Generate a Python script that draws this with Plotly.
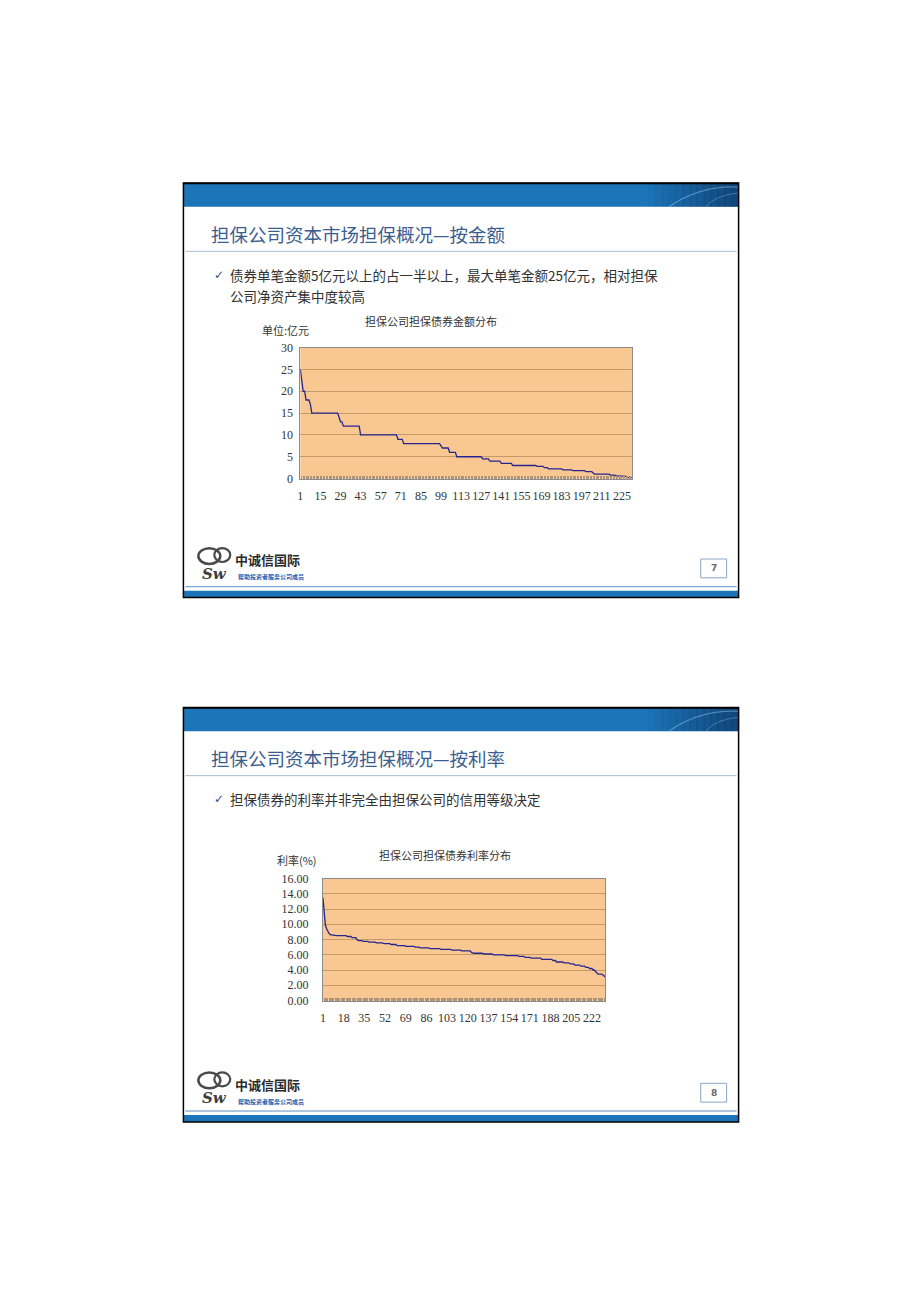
import plotly.graph_objects as go

W, H = 920, 1304

# ---------------- data ----------------
amount_values = [
    25, 22, 20, 20, 18, 18, 18, 17,
    15, 15, 15, 15, 15, 15, 15, 15, 15, 15, 15, 15, 15, 15, 15, 15, 15, 15, 15,
    14, 13, 13,
    12, 12, 12, 12, 12, 12, 12, 12, 12, 12, 12, 12,
    10, 10, 10, 10, 10, 10, 10, 10, 10, 10, 10, 10, 10, 10, 10, 10, 10, 10, 10, 10, 10, 10, 10, 10, 10, 10,
    9, 9, 9, 9,
    8, 8, 8, 8, 8, 8, 8, 8, 8, 8, 8, 8, 8, 8, 8, 8, 8, 8, 8, 8, 8, 8, 8, 8, 8, 8,
    7.5,
    7, 7, 7, 7, 7,
    6, 6, 6, 6, 6,
    5, 5, 5, 5, 5, 5, 5, 5, 5, 5, 5, 5, 5, 5, 5, 5, 5, 5,
    4.5, 4.5, 4.5, 4.5, 4.5,
    4, 4, 4, 4, 4, 4, 4, 4,
    3.5, 3.5, 3.5, 3.5, 3.5, 3.5, 3.5, 3.5,
    3, 3, 3, 3, 3, 3, 3, 3, 3, 3, 3, 3, 3, 3, 3, 3, 3,
    2.8, 2.8, 2.8, 2.8, 2.8,
    2.5, 2.5, 2.5,
    2.2, 2.2, 2.2, 2.2, 2.2, 2.2, 2.2, 2.2, 2.2, 2.2,
    2, 2, 2, 2, 2, 2, 2,
    1.8, 1.8, 1.8, 1.8, 1.8, 1.8, 1.8, 1.8, 1.8,
    1.6, 1.6, 1.6, 1.6, 1.6,
    1.3,
    1, 1, 1, 1, 1, 1, 1, 1, 1, 1, 1,
    0.8, 0.8, 0.8, 0.8,
    0.6, 0.6, 0.6, 0.6, 0.6,
    0.5, 0.5, 0.5,
    0.3, 0.3,
    0.2, 0.1,
]

rate_values = [
    13.5, 11.4, 9.9, 9.4, 9.0, 8.8, 8.65, 8.6, 8.55,
    8.5, 8.5, 8.5, 8.5, 8.5, 8.5, 8.5, 8.5, 8.5, 8.5, 8.5,
    8.4, 8.4, 8.4, 8.4,
    8.25, 8.25, 8.25, 8.25,
    8.0,
    7.85, 7.85, 7.85, 7.85,
    7.75, 7.75, 7.75, 7.75, 7.75,
    7.65, 7.65, 7.65, 7.65, 7.65, 7.65,
    7.55, 7.55, 7.55, 7.55, 7.55, 7.55,
    7.45, 7.45, 7.45, 7.45, 7.45, 7.45,
    7.35, 7.35, 7.35, 7.35, 7.35,
    7.2, 7.2, 7.2, 7.2, 7.2, 7.2, 7.2,
    7.1, 7.1, 7.1, 7.1, 7.1, 7.1, 7.1, 7.1,
    7.0, 7.0, 7.0, 7.0,
    6.9, 6.9, 6.9, 6.9, 6.9, 6.9, 6.9, 6.9,
    6.8, 6.8, 6.8, 6.8, 6.8, 6.8, 6.8, 6.8, 6.8,
    6.7, 6.7, 6.7, 6.7, 6.7, 6.7, 6.7, 6.7, 6.7,
    6.6, 6.6, 6.6, 6.6, 6.6, 6.6, 6.6, 6.6,
    6.5, 6.5, 6.5, 6.5, 6.5, 6.5, 6.5, 6.5,
    6.3,
    6.2, 6.2, 6.2, 6.2, 6.2, 6.2, 6.2, 6.2, 6.2,
    6.1, 6.1, 6.1, 6.1, 6.1, 6.1, 6.1, 6.1,
    6.0, 6.0, 6.0, 6.0, 6.0, 6.0, 6.0, 6.0, 6.0, 6.0,
    5.9, 5.9, 5.9, 5.9, 5.9, 5.9, 5.9, 5.9, 5.9, 5.9, 5.9,
    5.8, 5.8, 5.8, 5.8, 5.8,
    5.65, 5.65, 5.65, 5.65, 5.65,
    5.55, 5.55, 5.55, 5.55, 5.55, 5.55, 5.55, 5.55, 5.55,
    5.4, 5.4, 5.4, 5.4, 5.4, 5.4, 5.4, 5.4, 5.4,
    5.25, 5.25, 5.25,
    5.05, 5.05, 5.05, 5.05, 5.05, 5.05,
    4.95, 4.95, 4.95, 4.95, 4.95,
    4.8, 4.8, 4.8, 4.8,
    4.65, 4.65, 4.65, 4.65, 4.65,
    4.5, 4.5, 4.5, 4.5,
    4.35, 4.35, 4.35,
    4.2, 4.2, 4.2,
    4.0, 4.0,
    3.8, 3.65,
    3.45, 3.45, 3.45, 3.45,
    3.35, 3.25, 3.1,
]

amount_xticks = [1, 15, 29, 43, 57, 71, 85, 99, 113, 127, 141, 155, 169, 183, 197, 211, 225]
rate_xticks = [1, 18, 35, 52, 69, 86, 103, 120, 137, 154, 171, 188, 205, 222]
amount_yticks = [0, 5, 10, 15, 20, 25, 30]
rate_yticks = [0, 2, 4, 6, 8, 10, 12, 14, 16]
rate_yticktext = ["0.00", "2.00", "4.00", "6.00", "8.00", "10.00", "12.00", "14.00", "16.00"]

slide_titles = ["担保公司资本市场担保概况—按金额", "担保公司资本市场担保概况—按利率"]
bullet_lines = [
    ["债券单笔金额5亿元以上的占一半以上，最大单笔金额25亿元，相对担保", "公司净资产集中度较高"],
    ["担保债券的利率并非完全由担保公司的信用等级决定"],
]
chart_titles = ["担保公司担保债券金额分布", "担保公司担保债券利率分布"]
unit_labels = ["单位:亿元", "利率(%)"]
page_numbers = ["7", "8"]

# ---------------- helpers ----------------
def px(x):
    return x / W

def py(y):
    return 1 - y / H

CJK = "Noto Sans CJK SC"
SERIF = "Liberation Serif"
BLUE = "#1C75B8"

shapes = []
annotations = []

def rect(x0, y0, x1, y1, fill=None, line_color=None, lw=0, layer="below"):
    d = dict(type="rect", xref="paper", yref="paper",
             x0=px(x0), x1=px(x1), y0=py(y1), y1=py(y0), layer=layer,
             line=dict(width=lw, color=line_color or "rgba(0,0,0,0)"))
    if fill:
        d["fillcolor"] = fill
    shapes.append(d)

def hline(x0, x1, y, color, lw=1):
    shapes.append(dict(type="line", xref="paper", yref="paper",
                       x0=px(x0), x1=px(x1), y0=py(y), y1=py(y),
                       line=dict(color=color, width=lw), layer="below"))

def path(points_str, color, lw):
    shapes.append(dict(type="path", xref="paper", yref="paper", path=points_str,
                       line=dict(color=color, width=lw), layer="below"))

def text(t, x, y, size, color, family=CJK, xanchor="left", bold=False):
    if bold:
        t = "<b>" + t + "</b>"
    annotations.append(dict(text=t, x=px(x), y=py(y), xref="paper", yref="paper",
                            xanchor=xanchor, yanchor="middle", showarrow=False,
                            font=dict(size=size, color=color, family=family)))

# ---------------- slide decorations ----------------
for i, off in enumerate([0, 530]):
    top = 178 + off
    bot = 597 + off
    # header band with darker right-hand end
    rect(181, top, 738, top + 24, fill=BLUE)
    steps = 14
    for k in range(steps):
        x0 = 640 + k * (98 / steps)
        x1 = 640 + (k + 1) * (98 / steps)
        rect(x0, top, x1 + 0.5, top + 24, fill="rgba(8,30,70,%.3f)" % (0.04 * k))
    path("M %f,%f Q %f,%f %f,%f" % (px(668), py(top + 24), px(700), py(top + 2), px(738), py(top + 4)),
         "rgba(150,205,240,0.45)", 1.2)
    path("M %f,%f Q %f,%f %f,%f" % (px(705), py(top + 24), px(715), py(top + 12), px(738), py(top + 10)),
         "rgba(150,205,240,0.35)", 1.0)
    hline(181, 738, top + 0.5, "#000000", 1.5)
    # title and separator
    text(slide_titles[i], 207, top + 51, 18.5, "#3B5E90")
    hline(183, 736, top + 69, "#A9BCD4", 1)
    # bullets
    text("✓", 210, top + 93, 12, "#2F4F8F", family="DejaVu Sans")
    for j, line in enumerate(bullet_lines[i]):
        text(line, 226, top + 93 + 21 * j, 13.5, "#333333")
    # footer
    hline(183, 736, bot - 11, "#5B8DC4", 1)
    rect(181, bot - 7, 738, bot, fill=BLUE)
    rect(181, top, 738, bot, line_color="#000000", lw=1.5)
    # page number box
    rect(700, bot - 39, 726, bot - 20, line_color="#8AA6C8", lw=1)
    text(page_numbers[i], 713, bot - 29.5, 9, "#666666", family="DejaVu Sans", xanchor="center", bold=True)
    # logo
    shapes.append(dict(type="circle", xref="paper", yref="paper",
                       x0=px(196), x1=px(218), y0=py(bot - 34), y1=py(bot - 50),
                       line=dict(color="#4A4A4A", width=2.5), layer="below"))
    shapes.append(dict(type="circle", xref="paper", yref="paper",
                       x0=px(212), x1=px(228), y0=py(bot - 36), y1=py(bot - 50),
                       line=dict(color="#4A4A4A", width=2.2), layer="below"))
    text("<i>Sw</i>", 198, bot - 24, 15, "#3E3E3E", family="DejaVu Serif", bold=True)
    text("中诚信国际", 231, bot - 38, 13, "#2B2B2B", bold=True)
    text("帮助投资者服务公司成员", 234, bot - 21, 6, "#1A5FB4", bold=True)
    # chart titles
    if i == 0:
        text(chart_titles[0], 429, 317, 11, "#333333", family=CJK, xanchor="center")
        text(unit_labels[0], 258, 326, 11, "#333333", family=CJK)
    else:
        text(chart_titles[1], 443, 857, 11, "#333333", family=CJK, xanchor="center")
        text(unit_labels[1], 273, 862, 11, "#333333", family=CJK)

# ---------------- charts ----------------
fig = go.Figure()
fig.add_trace(go.Scatter(x=list(range(1, len(amount_values) + 1)), y=amount_values,
                         mode="lines", line=dict(color="#25258F", width=1.3),
                         xaxis="x", yaxis="y", showlegend=False, hoverinfo="skip"))
fig.add_trace(go.Scatter(x=list(range(1, len(rate_values) + 1)), y=rate_values,
                         mode="lines", line=dict(color="#25258F", width=1.3),
                         xaxis="x2", yaxis="y2", showlegend=False, hoverinfo="skip"))

tickfont = dict(family=SERIF, size=12, color="#333333")
GRID = "#C49A66"
BORDER = "#8C8C8C"

def xaxis(domain, n, ticks, anchor):
    return dict(domain=domain, range=[1, n], tickmode="array", tickvals=ticks,
                ticktext=[str(t) for t in ticks], showgrid=False, zeroline=False,
                showline=True, linecolor=BORDER, linewidth=1, mirror=True,
                ticks="inside", ticklen=3, tickcolor="#A08C78",
                minor=dict(dtick=1, tick0=1, ticks="inside", ticklen=3,
                           tickcolor="#B09478", showgrid=False),
                tickfont=tickfont, ticklabelstandoff=6, anchor=anchor, fixedrange=True)

def yaxis(domain, rng, ticks, ticktext, anchor, standoff):
    return dict(domain=domain, range=rng, tickmode="array", tickvals=ticks,
                ticktext=ticktext, showgrid=True, gridcolor=GRID, gridwidth=1,
                zeroline=False, showline=True, linecolor=BORDER, linewidth=1,
                mirror=True, ticks="", tickfont=tickfont,
                ticklabelstandoff=standoff, anchor=anchor, fixedrange=True)

fig.update_layout(
    width=W, height=H, autosize=False,
    margin=dict(l=0, r=0, t=0, b=0),
    paper_bgcolor="#FFFFFF", plot_bgcolor="#F9C792",
    xaxis=xaxis([px(298.3), px(631)], len(amount_values), amount_xticks, "y"),
    yaxis=yaxis([py(476.7), py(344.3)], [0, 30], amount_yticks,
                [str(t) for t in amount_yticks], "x", 4),
    xaxis2=xaxis([px(321), px(604.3)], len(rate_values), rate_xticks, "y2"),
    yaxis2=yaxis([py(1004.3), py(881)], [0, 16], rate_yticks, rate_yticktext, "x2", 11),
    shapes=shapes,
    annotations=annotations,
    showlegend=False,
)

fig.write_html("out.html")
